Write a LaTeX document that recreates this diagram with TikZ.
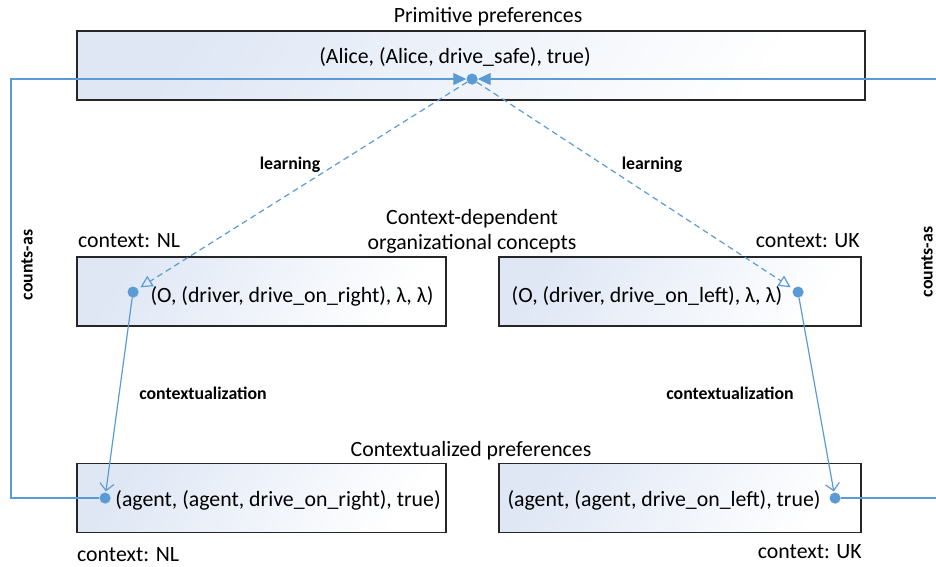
\documentclass[tikz,border=0pt]{standalone}
\usepackage{fontspec}
\setmainfont{Carlito}
\usetikzlibrary{arrows.meta,shadows}
\definecolor{lineblue}{HTML}{5B9BD5}
\definecolor{boxblue}{HTML}{DFE7F5}
\tikzset{
  box/.style={draw=black!85, line width=1.1pt, minimum width=#1, minimum height=69pt, inner sep=0pt,
    shading=axis, top color=boxblue, middle color=white!60!boxblue, bottom color=white, shading angle=55},
  txt/.style={font=\fontsize{21.8}{25}\selectfont, inner sep=0pt, text=black},
  lbl/.style={font=\fontsize{17.8}{20}\selectfont\bfseries, inner sep=0pt},
  dot/.style={circle, fill=lineblue, inner sep=0pt, minimum size=11pt,
    drop shadow={shadow xshift=0.5pt, shadow yshift=-0.5pt, opacity=0.25}},
  conn/.style={draw=lineblue, line width=1.2pt},
  countsas/.style={conn, -{Triangle[length=13pt,width=12pt]}},
  learn/.style={conn, dashed, dash pattern=on 6pt off 4pt, -{Triangle[open,length=12pt,width=12pt,line width=1.2pt]}, shorten >=3pt},
  ctx/.style={conn, -{Straight Barb[length=7pt,width=14pt,line width=1.2pt]}, shorten >=1pt}
}
\begin{document}
\begin{tikzpicture}[x=1pt,y=-1pt]
\useasboundingbox (0,0) rectangle (936,566);
\clip (0,0) rectangle (936,566);
% boxes
\node[box=788pt] (top) at (471,65.5) {};
\node[box=369pt] (ml) at (261.5,291.5) {};
\node[box=362pt] (mr) at (680,291.5) {};
\node[box=369pt] (bl) at (261.5,498) {};
\node[box=362pt] (br) at (680,498) {};
% titles
\node[txt] (ttop) at (488,17) {Primitive preferences};
\node[txt, align=center] (tmid) at (472,231) {Context-dependent\\organizational concepts};
\node[txt] (tbot) at (471,451) {Contextualized preferences};
\node[txt, anchor=west] (cnl1) at (78,241) {context: NL};
\node[txt, anchor=east] (cuk1) at (860,241) {context: UK};
\node[txt, anchor=west] (cnl2) at (77,555) {context: NL};
\node[txt, anchor=east] (cuk2) at (862,552) {context: UK};
% box texts
\node[txt] (a1) at (455,57) {(Alice, (Alice, drive\_safe), true)};
\node[txt] (a2) at (292,296) {(O, (driver, drive\_on\_right), λ, λ)};
\node[txt] (a3) at (647,296) {(O, (driver, drive\_on\_left), λ, λ)};
\node[txt] (a4) at (278,500) {(agent, (agent, drive\_on\_right), true)};
\node[txt] (a5) at (664,500) {(agent, (agent, drive\_on\_left), true)};
% dots
\node[dot] (dtop) at (472,79) {};
\node[dot] (dml) at (133,292) {};
\node[dot] (dmr) at (798,292) {};
\node[dot] (dbl) at (105,498) {};
\node[dot] (dbr) at (835,498) {};
\coordinate (lb) at (11,498);
\coordinate (lt) at (11,79);
\coordinate (rb) at (945,498);
\coordinate (rt) at (945,79);
% connectors
\draw[countsas] (dbl) -- (lb) -- (lt) -- (dtop);
\draw[countsas] (dbr) -- (rb) -- (rt) -- (dtop);
\draw[learn] (dtop) -- (dml);
\draw[learn] (dtop) -- (dmr);
\draw[ctx] (dml) -- (dbl);
\draw[ctx] (dmr) -- (dbr);
% labels
\node[lbl] (l1) at (290,165) {learning};
\node[lbl] (l2) at (652,165) {learning};
\node[lbl] (c1) at (203,393) {contextualization};
\node[lbl] (c2) at (730,393) {contextualization};
\node[lbl, rotate=90] (k1) at (27,265) {counts-as};
\node[lbl, rotate=90] (k2) at (927,262) {counts-as};
\end{tikzpicture}
\end{document}
